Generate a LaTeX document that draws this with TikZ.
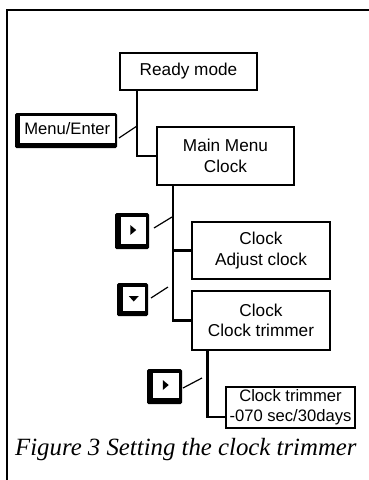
\documentclass[tikz,border=0pt]{standalone}
\usepackage{fontspec}
\setmainfont{Liberation Serif}
\setsansfont{Liberation Sans}
\begin{document}
\begin{tikzpicture}[x=1pt,y=-1pt,
  menubox/.style={draw=black,line width=1.3pt,fill=white,inner sep=0pt,align=center,
    font=\sffamily\fontsize{17.2}{20.5}\selectfont},
  conn/.style={line width=2.4pt},
  slash/.style={line width=1.2pt},
  keyouter/.style={fill=black,rounded corners=1.5pt,inner sep=0pt},
  keyinner/.style={fill=white,draw=black,line width=0.6pt,inner sep=0pt,
    font=\sffamily\fontsize{16.6}{20}\selectfont},
  frame/.style={line width=2.6pt}]
\useasboundingbox (0,0) rectangle (369,480);
\fill[white] (0,0) rectangle (369,480);
% frame
\draw[frame] (7,480) -- (7,10) -- (370,10);
% menu boxes
\node[menubox,minimum width=137pt,minimum height=37pt] (ready) at (188.5,71.5) {Ready mode};
\node[menubox,minimum width=137pt,minimum height=58pt] (main) at (225.5,156) {Main Menu\\Clock};
\node[menubox,minimum width=138pt,minimum height=57pt] (adjust) at (261,250.5) {Clock\\Adjust clock};
\node[menubox,minimum width=138pt,minimum height=59pt] (trim) at (261,320.5) {Clock\\Clock trimmer};
\node[menubox,minimum width=129pt,minimum height=41pt,font=\sffamily\fontsize{16.6}{20}\selectfont] (final) at (290.5,407.5) {Clock trimmer\\-070 sec/30days};
% connectors
\draw[conn] (ready.south -| 137,0) |- (main.west);
\draw[conn] (main.south -| 173,0) |- (adjust.west);
\draw[conn] (main.south -| 173,0) |- (trim.west);
\draw[conn] (trim.south -| 207.5,0) |- ([yshift=-9.5pt]final.west);
% keys
\node[keyouter,minimum width=102pt,minimum height=35pt] (kmo) at (66,130.5) {};
\node[keyinner,minimum width=95.5pt,minimum height=28pt] (kmenu) at (67.25,129) {Menu/Enter};
\node[keyouter,minimum width=34pt,minimum height=36pt] (k1o) at (132,231) {};
\node[keyinner,minimum width=26.5pt,minimum height=28pt] (k1) at (133.25,230) {};
\node[keyouter,minimum width=31pt,minimum height=33pt] (k2o) at (132.5,299.5) {};
\node[keyinner,minimum width=23.5pt,minimum height=25pt] (k2) at (133.75,298.5) {};
\node[keyouter,minimum width=35pt,minimum height=35pt] (k3o) at (164.5,386.5) {};
\node[keyinner,minimum width=27.5pt,minimum height=26pt] (k3) at (165.75,385) {};
% key glyphs
\fill ([xshift=-3pt,yshift=5pt]k1.center) -- ([xshift=3pt]k1.center) -- ([xshift=-3pt,yshift=-5pt]k1.center) -- cycle;
\fill ([xshift=-5pt,yshift=2.5pt]k2.center) -- ([xshift=5pt,yshift=2.5pt]k2.center) -- ([yshift=-3pt]k2.center) -- cycle;
\fill ([xshift=-3pt,yshift=5pt]k3.center) -- ([xshift=3pt]k3.center) -- ([xshift=-3pt,yshift=-5pt]k3.center) -- cycle;
% slashes
\coordinate (s0) at (137,126);
\coordinate (s1) at (172,217);
\coordinate (s2) at (168,287);
\coordinate (s3) at (202,378);
\draw[slash] (119,138) -- (s0);
\draw[slash] (154,228) -- (s1);
\draw[slash] (151,298) -- (s2);
\draw[slash] (183,388) -- (s3);
% caption
\node[anchor=base west,inner sep=0pt,font=\itshape\fontsize{24.8}{28}\selectfont] (cap) at (15,455) {Figure 3 Setting the clock trimmer};
\end{tikzpicture}
\end{document}
